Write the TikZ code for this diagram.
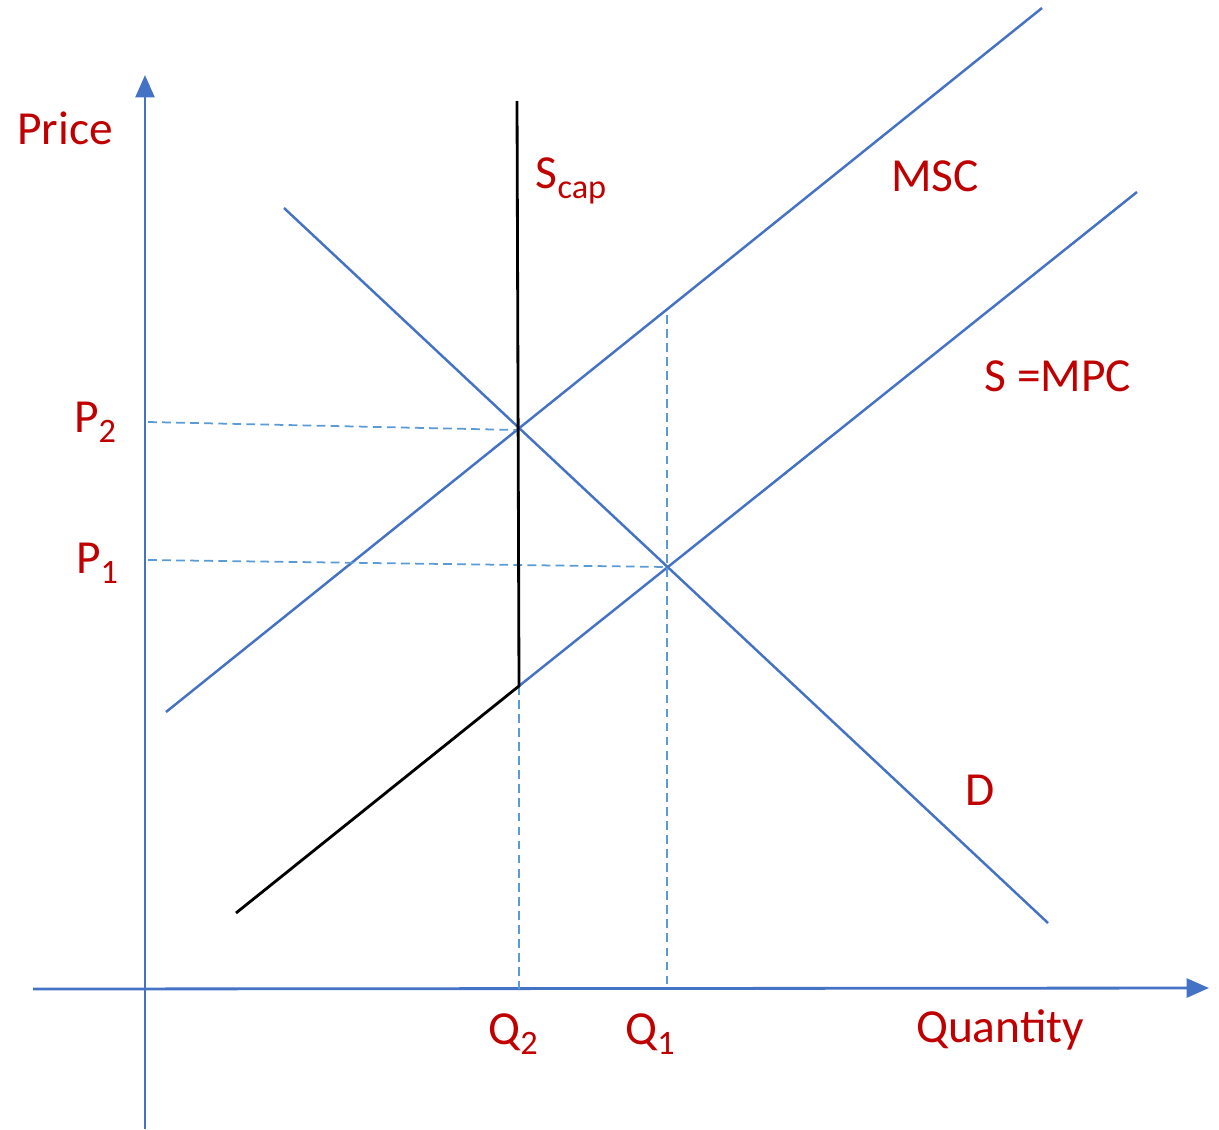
\documentclass[tikz,border=0pt]{standalone}
\usepackage{fontspec}
\setmainfont{Carlito}
\usepackage{xcolor}
\usetikzlibrary{arrows.meta,positioning}
\definecolor{CurveBlue}{HTML}{4472C4}
\definecolor{GuideBlue}{HTML}{5B9BD5}
\definecolor{LabelRed}{HTML}{C00000}
\newcommand{\lowsub}[1]{\raisebox{-0.45ex}{\fontsize{19.5}{22}\selectfont #1}}

\begin{document}
\begin{tikzpicture}[x=0.02cm, y=-0.02cm, every node/.style={font=\fontsize{27}{32}\selectfont, text=LabelRed, inner sep=0pt}, curve/.style={CurveBlue, line width=1.4pt}, guide/.style={GuideBlue, line width=1pt, dash pattern=on 5pt off 3pt}, axis/.style={CurveBlue, line width=1.6pt, -{Triangle[length=4.5mm,width=3.8mm]}}, capline/.style={black, line width=1.6pt}]
\useasboundingbox (0,0) rectangle (1219,1129);
% axes
\coordinate (yb) at (145,1129);
\coordinate (yt) at (145,75);
\coordinate (xl) at (33,989);
\coordinate (xr) at (1209,988);
\draw[axis] (yb) -- (yt);
\draw[axis] (xl) -- (xr);
% key points
\coordinate (kink) at (519,686);
\coordinate (e2) at (517,430);
\coordinate (e1) at (667,567);
\coordinate (captop) at (517,101);
% curves
\coordinate (mscA) at (166,712);
\coordinate (mscB) at (1042,8);
\coordinate (mpcA) at (236,913);
\coordinate (mpcB) at (1137,192);
\coordinate (dA) at (284,208);
\coordinate (dB) at (1048,923);
\draw[curve] (mscA) -- (mscB);
\draw[curve] (kink) -- (mpcB);
\draw[curve] (dA) -- (dB);
% guides
\coordinate (p2) at (148,422);
\coordinate (p1) at (148,560);
\coordinate (q2) at (519,989);
\coordinate (q1) at (667,989);
\coordinate (q1top) at (667,315);
\draw[guide] (p2) -- (e2);
\draw[guide] (p1) -- (e1);
\draw[guide] (kink) -- (q2);
\draw[guide] (q1top) -- (q1);
% capped supply
\draw[capline] (mpcA) -- (kink) -- (captop);
% labels
\node (price) at (65,128) {Price};
\node (quantity) at (1000,1030) {Quantity};
\node (scap) at (571,181) {S\lowsub{cap}};
\node (msc) at (935,176) {MSC};
\node (mpc) at (1058,376) {S =MPC};
\node (dlab) at (980,790) {D};
\node (plab2) at (95,422) {P\lowsub{2}};
\node (plab1) at (97,563) {P\lowsub{1}};
\node (qlab2) at (513,1034) {Q\lowsub{2}};
\node (qlab1) at (650,1034) {Q\lowsub{1}};
\end{tikzpicture}
\end{document}
